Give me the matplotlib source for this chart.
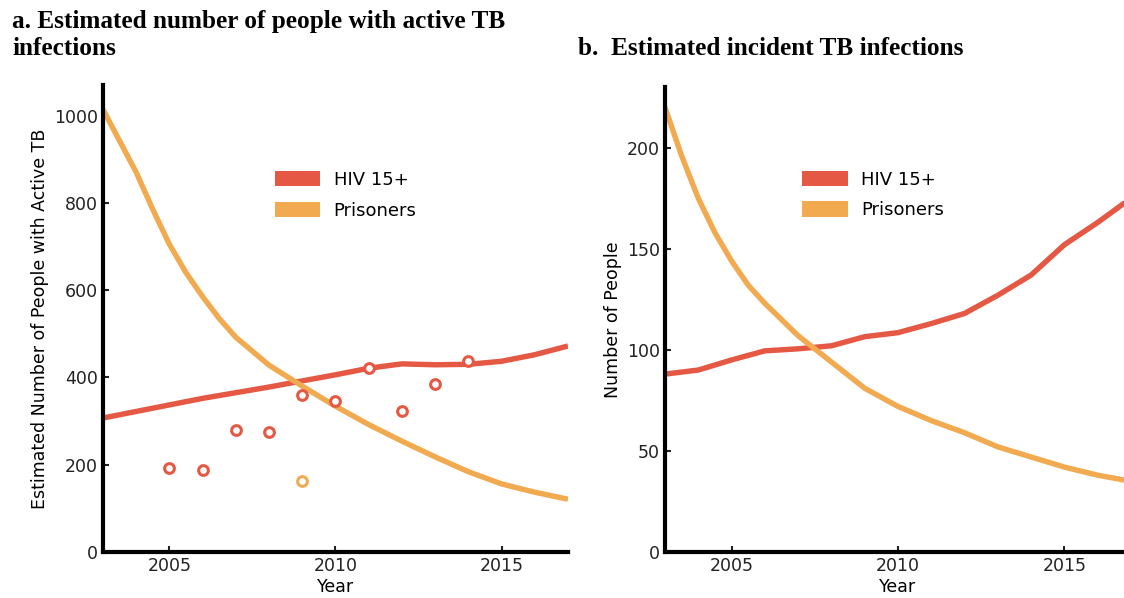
import numpy as np
import matplotlib
matplotlib.use("Agg")
import matplotlib.pyplot as plt
from matplotlib.patches import Patch

plt.rcParams["font.family"] = ["DejaVu Sans"]

# 数据
years = [2003, 2004, 2005, 2006, 2007, 2008, 2009, 2010,
         2011, 2012, 2013, 2014, 2015, 2016, 2017]
# 囚犯曲线前段较陡，多读几个半年点
years_p = [2003, 2003.5, 2004, 2004.5, 2005, 2005.5, 2006, 2006.5, 2007,
           2008, 2009, 2010, 2011, 2012, 2013, 2014, 2015, 2016, 2017]

# a. active TB
active_hiv = [307, 322, 337, 352, 365, 378, 392, 406,
              421, 431, 429, 430, 437, 452, 472]
active_prisoners = [1014, 942, 870, 785, 705, 640, 585, 535, 492,
                    428, 380, 334, 292, 254, 218, 184, 156, 137, 121]
obs_years_hiv = [2005, 2006, 2007, 2008, 2009, 2010, 2011, 2012, 2013, 2014]
obs_hiv = [192, 187, 280, 275, 359, 347, 421, 322, 385, 437]
obs_years_prisoners = [2009]
obs_prisoners = [163]

# b. incident TB
inc_hiv = [88, 90, 95, 99.5, 100.5, 102, 106.5, 108.5,
           113, 118, 127, 137, 152, 163, 175]
inc_prisoners = [220, 196, 175, 158, 144, 132, 123, 115, 107,
                 94, 81, 72, 65, 59, 52, 47, 42, 38, 35]

labels = ["HIV 15+", "Prisoners"]
red = "#E55844"
orange = "#F1AA4F"

fig = plt.figure(figsize=(11.24, 5.98), dpi=100)
ax1 = fig.add_axes([0.0916, 0.0769, 0.4137, 0.781])
ax2 = fig.add_axes([0.5916, 0.0769, 0.4146, 0.7776])


def style(ax):
    for s in ["top", "right"]:
        ax.spines[s].set_visible(False)
    for s in ["left", "bottom"]:
        ax.spines[s].set_linewidth(3)
        ax.spines[s].set_color("black")
    ax.tick_params(direction="in", length=4, width=1.5, labelsize=12.5,
                   colors="#222222")
    ax.set_xlim(2003, 2017)
    ax.set_xticks([2005, 2010, 2015])
    ax.set_xlabel("Year", fontsize=12.5, labelpad=2)
    handles = [Patch(facecolor=red, edgecolor="none"),
               Patch(facecolor=orange, edgecolor="none")]
    return handles


h = style(ax1)
ax1.plot(years, active_hiv, color=red, lw=3.9, solid_capstyle="butt")
ax1.plot(years_p, active_prisoners, color=orange, lw=3.9, solid_capstyle="butt")
ax1.plot(obs_years_hiv, obs_hiv, "o", ms=7, mfc="white", mec=red, mew=2.2,
         linestyle="none")
ax1.plot(obs_years_prisoners, obs_prisoners, "o", ms=7, mfc="white",
         mec=orange, mew=2.2, linestyle="none")
ax1.set_ylim(0, 1070)
ax1.set_yticks([0, 200, 400, 600, 800, 1000])
ax1.set_ylabel("Estimated Number of People with Active TB", fontsize=12.5)
ax1.legend(h, labels, loc="center", bbox_to_anchor=(0.522, 0.764),
           frameon=False, fontsize=13, handlelength=2.5, handleheight=0.95,
           labelspacing=0.7, handletextpad=0.75)

h = style(ax2)
ax2.plot(years, inc_hiv, color=red, lw=3.9, solid_capstyle="butt")
ax2.plot(years_p, inc_prisoners, color=orange, lw=3.9, solid_capstyle="butt")
ax2.set_ylim(0, 230)
ax2.set_yticks([0, 50, 100, 150, 200])
ax2.set_ylabel("Number of People", fontsize=12.5)
ax2.legend(h, labels, loc="center", bbox_to_anchor=(0.447, 0.768),
           frameon=False, fontsize=13, handlelength=2.5, handleheight=0.95,
           labelspacing=0.7, handletextpad=0.75)

fig.text(12 / 1124, 1 - 10 / 598,
         "a. Estimated number of people with active TB\ninfections",
         ha="left", va="top", fontsize=18.2, fontweight="bold",
         family="Liberation Serif", linespacing=1.22)
fig.text(578 / 1124, 1 - 37 / 598, "b.  Estimated incident TB infections",
         ha="left", va="top", fontsize=18.2, fontweight="bold",
         family="Liberation Serif")

fig.savefig("out.png", dpi=100)
